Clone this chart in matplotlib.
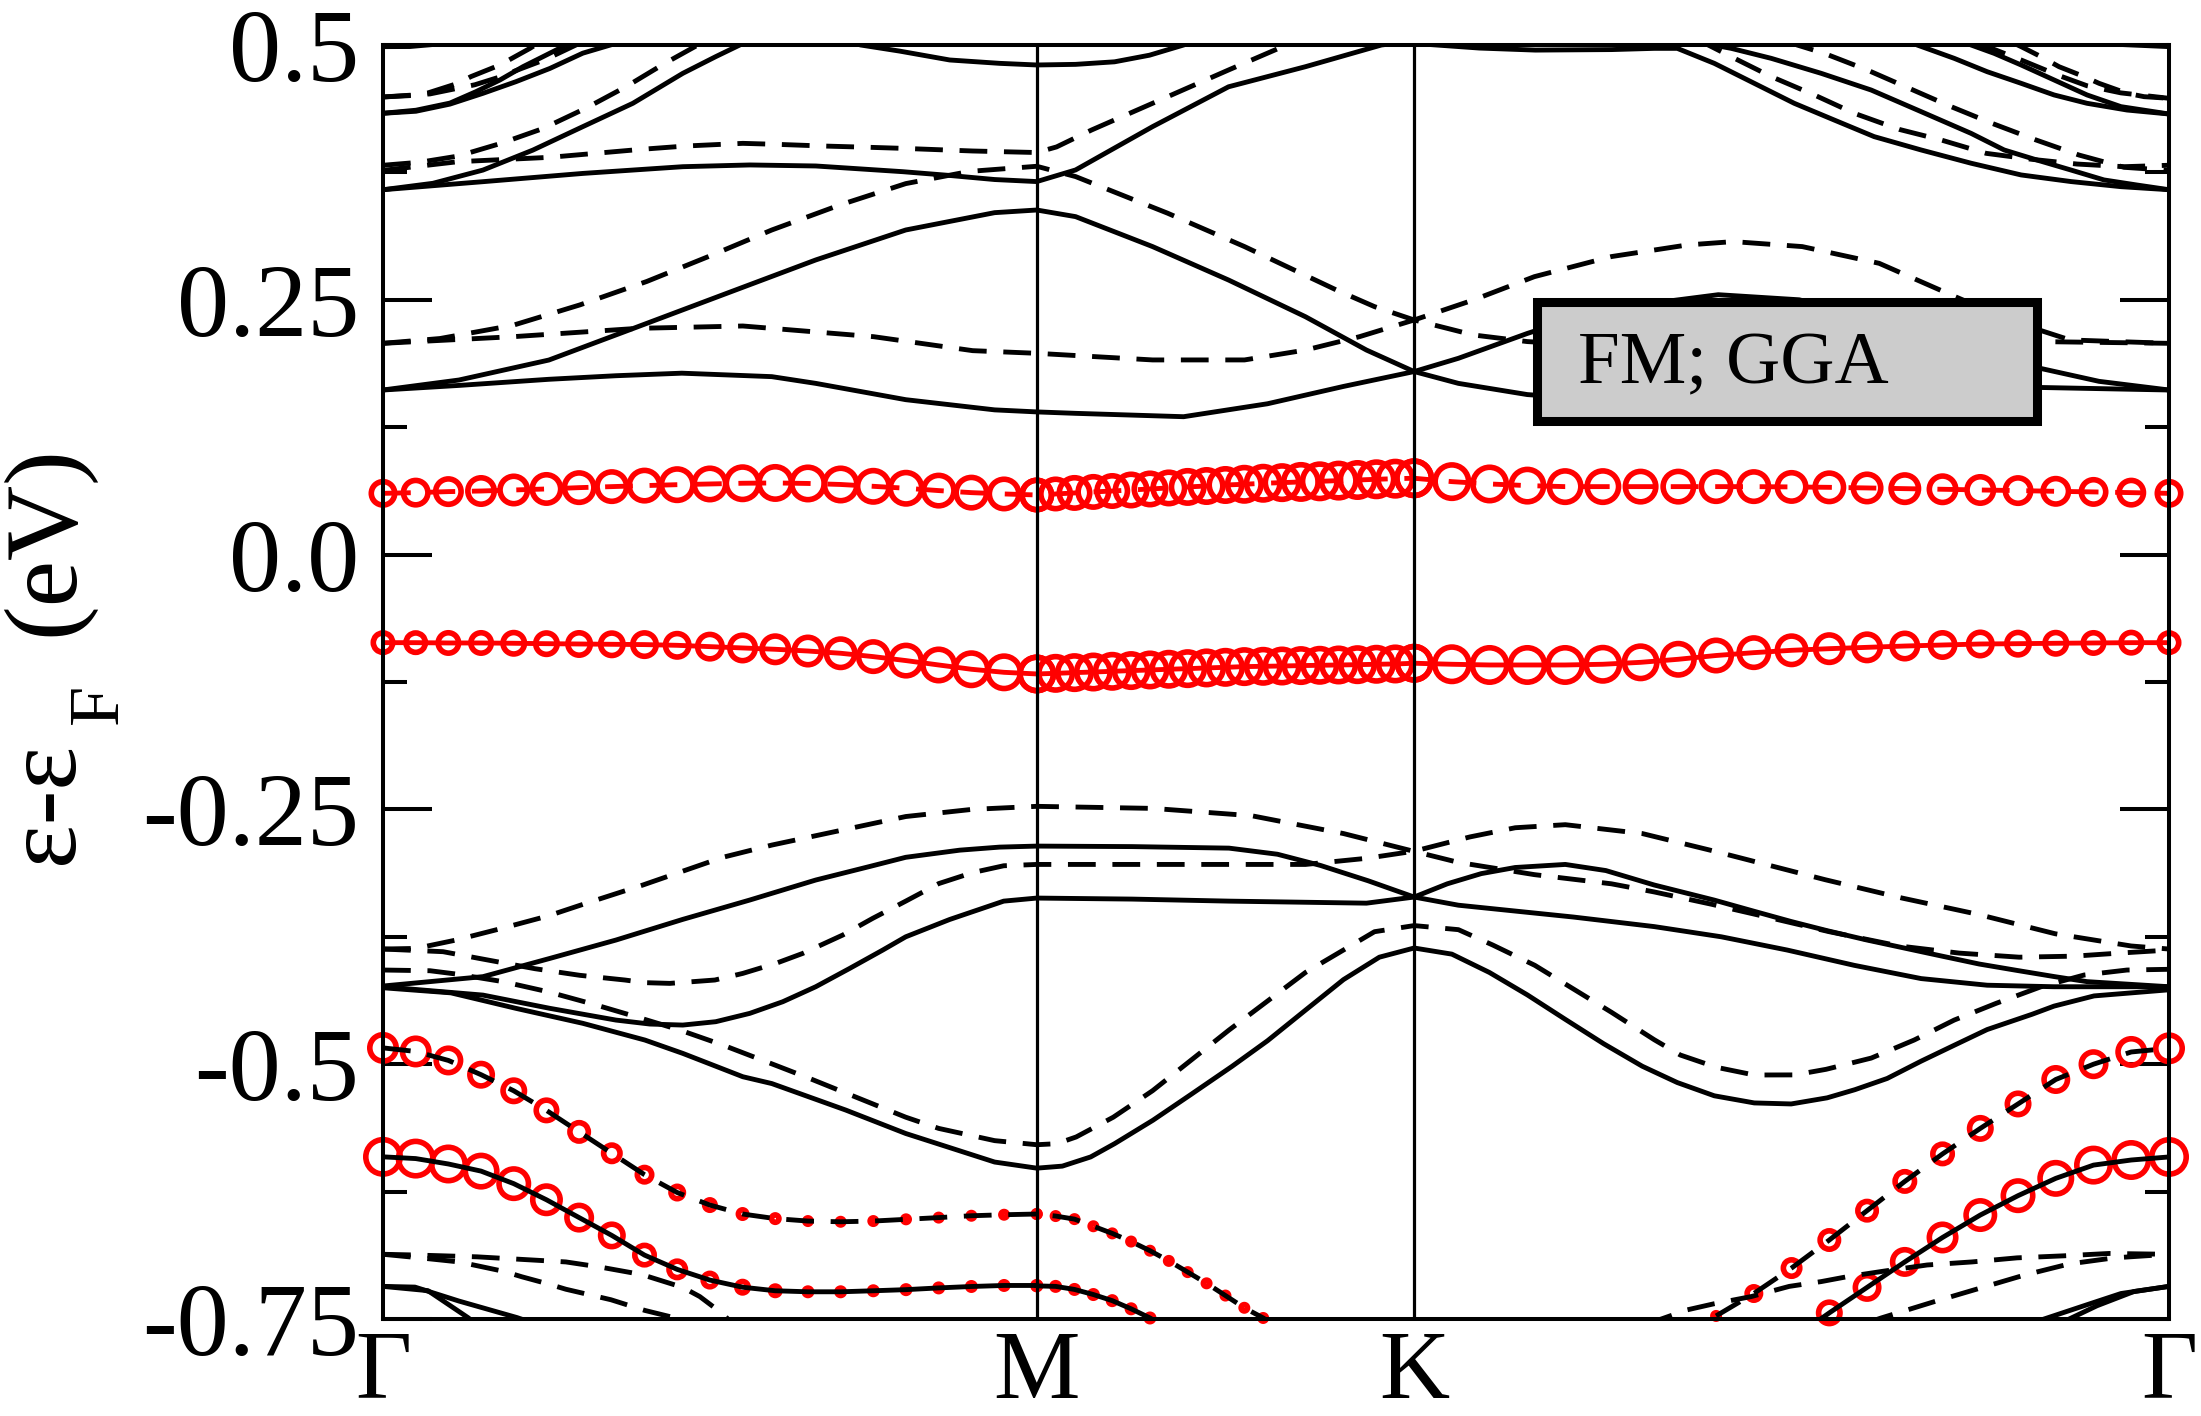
import numpy as np
import matplotlib
matplotlib.use('Agg')
import matplotlib.pyplot as plt
from matplotlib.patches import Rectangle

plt.rcParams['font.family'] = ['Liberation Serif', 'DejaVu Serif']
plt.rcParams['lines.scale_dashes'] = False

# ---------------- k-path / axes ----------------
kpath_labels = ['Γ', 'M', 'K', 'Γ']
kpath_pos = [0.0, 0.5774, 0.9107, 1.5774]
n_seg = 20
y_ticks = [-0.75, -0.5, -0.25, 0.0, 0.25, 0.5]
y_ticklabels = ['-0.75', '-0.5', '-0.25', '0.0', '0.25', '0.5']
y_minor = [-0.625, -0.375, -0.125, 0.125, 0.375]
y_label_parts = ['ε-ε', 'F', '(eV)']
legend_text = 'FM; GGA'

# ---------------- spin-up bands (solid) ----------------
up_a_k = [0.0, 0.0671, 0.1465, 0.2057, 0.2639, 0.3434, 0.3822, 0.4617, 0.5402, 0.5774, 0.6117, 0.7071, 0.7812, 0.8483, 0.9107, 0.9498, 1.0107, 1.0743, 1.1793, 1.2508, 1.3391, 1.4273, 1.4627, 1.5156, 1.5774]
up_a_e = [0.1615, 0.166, 0.172, 0.1755, 0.178, 0.1746, 0.168, 0.152, 0.142, 0.140, 0.1386, 0.1353, 0.148, 0.165, 0.1796, 0.1926, 0.217, 0.240, 0.255, 0.250, 0.225, 0.195, 0.183, 0.170, 0.1615]
up_b_k = [0.0, 0.0671, 0.1465, 0.2251, 0.3037, 0.3822, 0.4617, 0.5402, 0.5774, 0.6117, 0.6797, 0.7468, 0.8147, 0.8686, 0.9107, 0.9498, 1.0107, 1.0743, 1.2067, 1.3391, 1.4627, 1.5774]
up_b_e = [0.1615, 0.1713, 0.1909, 0.2236, 0.2564, 0.2891, 0.3185, 0.3355, 0.3381, 0.3316, 0.3022, 0.2694, 0.2334, 0.2007, 0.1796, 0.168, 0.157, 0.152, 0.150, 0.155, 0.164, 0.1615]
up_c_k = [0.0, 0.0883, 0.1765, 0.2648, 0.3240, 0.3822, 0.4590, 0.5005, 0.5402, 0.5774, 0.6117, 0.6797, 0.7468, 0.8147, 0.8818, 0.9107]
up_c_e = [0.358, 0.3659, 0.374, 0.3806, 0.3823, 0.3813, 0.3757, 0.372, 0.368, 0.366, 0.3774, 0.4199, 0.459, 0.4787, 0.5, 0.504]
up_d_k = [0.0, 0.0441, 0.0883, 0.1324, 0.1765, 0.2207, 0.2648, 0.2939, 0.3151, 0.33]
up_d_e = [0.358, 0.3643, 0.3773, 0.3969, 0.4199, 0.4428, 0.4722, 0.4886, 0.5, 0.508]
up_e_k = [0.40, 0.4219, 0.4564, 0.5005, 0.5446, 0.5774, 0.6117, 0.6461, 0.6770, 0.7071, 0.72]
up_e_e = [0.507, 0.5, 0.494, 0.4853, 0.482, 0.4804, 0.481, 0.4835, 0.490, 0.5, 0.505]
up_f_k = [0.9107, 0.9242, 0.9683, 1.0178, 1.0849, 1.1228, 1.1431, 1.1758, 1.2111, 1.2464, 1.2817, 1.3170, 1.3585, 1.4026, 1.4468, 1.4909, 1.5350, 1.5774]
up_f_e = [0.503, 0.5005, 0.497, 0.495, 0.4955, 0.4967, 0.4967, 0.482, 0.4624, 0.4428, 0.4264, 0.4101, 0.397, 0.384, 0.3725, 0.366, 0.361, 0.358]
up_g_k = [1.16, 1.1669, 1.1908, 1.2261, 1.2702, 1.3144, 1.3585, 1.4026, 1.4318, 1.4609, 1.4909, 1.5200, 1.5492, 1.5774]
up_g_e = [0.505, 0.5016, 0.4967, 0.4869, 0.4722, 0.4558, 0.4346, 0.4133, 0.397, 0.3871, 0.3773, 0.3676, 0.3626, 0.358]
up_h_k = [1.35, 1.3550, 1.3877, 1.4168, 1.4468, 1.4759, 1.5050, 1.5403, 1.5774]
up_h_e = [0.503, 0.5, 0.4869, 0.4738, 0.4624, 0.451, 0.4428, 0.4362, 0.4323]
up_i_k = [1.395, 1.4026, 1.4230, 1.4468, 1.4759, 1.5050, 1.5350, 1.5774]
up_i_e = [0.504, 0.5, 0.4918, 0.4804, 0.4657, 0.451, 0.4395, 0.4323]
up_j_k = [1.52, 1.5350, 1.5774]
up_j_e = [0.502, 0.5005, 0.4984]
up_k_k = [0.0, 0.0238, 0.0441, 0.06]
up_k_e = [0.4984, 0.4985, 0.5005, 0.503]
up_l_k = [0.0, 0.0291, 0.0591, 0.0821, 0.1033, 0.1236, 0.1412, 0.1589, 0.165]
up_l_e = [0.433, 0.436, 0.443, 0.4542, 0.4657, 0.4787, 0.4885, 0.4984, 0.502]
up_m_k = [0.0, 0.0291, 0.0591, 0.0883, 0.1174, 0.1474, 0.1765, 0.2057, 0.21]
up_m_e = [0.433, 0.435, 0.442, 0.4526, 0.464, 0.477, 0.492, 0.5016, 0.503]
up_n_k = [0.0, 0.0883, 0.1474, 0.2057, 0.2648, 0.3240, 0.3822, 0.4299, 0.4617, 0.5093, 0.5446, 0.5774, 0.6617, 0.7472, 0.79, 0.828, 0.87, 0.9107, 0.9498, 1.0513, 1.1228, 1.1820, 1.2402, 1.2994, 1.3585, 1.4168, 1.4759, 1.5774]
up_n_e = [-0.4233, -0.4141, -0.3962, -0.3782, -0.3579, -0.3389, -0.3193, -0.306, -0.297, -0.290, -0.287, -0.286, -0.2865, -0.288, -0.294, -0.305, -0.320, -0.336, -0.344, -0.3556, -0.365, -0.375, -0.388, -0.403, -0.416, -0.4225, -0.424, -0.424]
up_o_k = [0.0, 0.0883, 0.1474, 0.2057, 0.2357, 0.2648, 0.2939, 0.3240, 0.3531, 0.3822, 0.4122, 0.4414, 0.4617, 0.5005, 0.5482, 0.5774, 0.6617, 0.7472, 0.8686, 0.9107, 0.94, 0.97, 1.00, 1.0442, 1.08, 1.1228, 1.1758, 1.2111, 1.2437, 1.2755, 1.3100, 1.3435, 1.3762, 1.4097, 1.4432, 1.4759, 1.5050, 1.5774]
up_o_e = [-0.424, -0.4322, -0.4452, -0.4567, -0.4606, -0.4616, -0.4583, -0.4501, -0.4387, -0.424, -0.406, -0.388, -0.375, -0.358, -0.340, -0.337, -0.338, -0.340, -0.342, -0.336, -0.323, -0.313, -0.307, -0.304, -0.310, -0.3242, -0.339, -0.350, -0.360, -0.369, -0.378, -0.386, -0.3938, -0.4017, -0.408, -0.414, -0.419, -0.424]
up_p_k = [0.0, 0.06, 0.1174, 0.1765, 0.2313, 0.2648, 0.3178, 0.3434, 0.4087, 0.4617, 0.5402, 0.5774, 0.60, 0.625, 0.6461, 0.68, 0.7132, 0.75, 0.7812, 0.8147, 0.8483, 0.88, 0.9107, 0.9440, 0.9772, 1.0107, 1.0442, 1.0782, 1.1122, 1.1431, 1.1758, 1.2111, 1.2437, 1.2755, 1.3000, 1.3285, 1.3585, 1.3885, 1.4168, 1.4565, 1.4759, 1.5112, 1.5774]
up_p_e = [-0.425, -0.430, -0.4452, -0.4599, -0.4763, -0.4894, -0.5123, -0.519, -0.545, -0.568, -0.596, -0.602, -0.600, -0.591, -0.578, -0.555, -0.530, -0.502, -0.477, -0.447, -0.417, -0.395, -0.386, -0.392, -0.410, -0.432, -0.456, -0.480, -0.502, -0.518, -0.531, -0.538, -0.539, -0.533, -0.525, -0.514, -0.497, -0.481, -0.466, -0.451, -0.443, -0.433, -0.427]
up_q_k = [0.0, 0.0282, 0.0671, 0.1183, 0.13]
up_q_e = [-0.718, -0.7187, -0.7324, -0.7486, -0.753]
up_r_k = [0.0, 0.0397, 0.0750, 0.08]
up_r_e = [-0.718, -0.7222, -0.7486, -0.753]
up_s_k = [1.45, 1.4644, 1.5050, 1.5350, 1.5774]
up_s_e = [-0.756, -0.751, -0.736, -0.725, -0.718]
up_t_k = [1.475, 1.4874, 1.5138, 1.5465, 1.5774]
up_t_e = [-0.756, -0.751, -0.737, -0.723, -0.718]

# ---------------- spin-down bands (dashed) ----------------
dn_a_k = [0.0, 0.1148, 0.2251, 0.3178, 0.4334, 0.5208, 0.5774, 0.6797, 0.7609, 0.8147, 0.8624, 0.9107, 0.9630, 1.0169, 1.0849, 1.1519, 1.1926, 1.2535, 1.3214, 1.3885, 1.4230, 1.4627, 1.4900, 1.5774]
dn_a_e = [0.2073, 0.2138, 0.222, 0.2243, 0.2138, 0.2001, 0.1975, 0.191, 0.191, 0.2007, 0.2138, 0.2302, 0.2498, 0.2727, 0.2924, 0.3038, 0.3071, 0.3022, 0.2858, 0.2531, 0.2367, 0.2204, 0.2106, 0.2073]
dn_b_k = [0.0, 0.0503, 0.1148, 0.1739, 0.2330, 0.2887, 0.3434, 0.4034, 0.4617, 0.5181, 0.5774, 0.6117, 0.6929, 0.7609, 0.8421, 0.8757, 0.9107, 0.9630, 1.0107, 1.0743, 1.2067, 1.3391, 1.4627, 1.5774]
dn_b_e = [0.2073, 0.212, 0.225, 0.245, 0.268, 0.293, 0.3185, 0.343, 0.364, 0.376, 0.381, 0.3709, 0.335, 0.3022, 0.2596, 0.2433, 0.2302, 0.2155, 0.209, 0.205, 0.203, 0.206, 0.209, 0.2073]
dn_c_k = [0.0, 0.0662, 0.1474, 0.2277, 0.2675, 0.3178, 0.3487, 0.3884, 0.4299, 0.4590, 0.5208, 0.5774, 0.5949, 0.6258, 0.6797, 0.7468, 0.7944, 0.80]
dn_c_e = [0.377, 0.3855, 0.3898, 0.3976, 0.4009, 0.4035, 0.4025, 0.4009, 0.3996, 0.3986, 0.396, 0.3945, 0.400, 0.4166, 0.4428, 0.4755, 0.4983, 0.502]
dn_d_k = [0.0, 0.0327, 0.0662, 0.1042, 0.1412, 0.1792, 0.2145, 0.2489, 0.2781, 0.285]
dn_d_e = [0.382, 0.385, 0.391, 0.4035, 0.418, 0.438, 0.459, 0.482, 0.500, 0.505]
dn_e_k = [0.0, 0.0265, 0.0397, 0.0662, 0.0777, 0.1033, 0.1298, 0.1359]
dn_e_e = [0.449, 0.4505, 0.453, 0.4624, 0.469, 0.4804, 0.4967, 0.501]
dn_f_k = [0.0, 0.0415, 0.0812, 0.1042, 0.1165, 0.1439, 0.1704, 0.175]
dn_f_e = [0.449, 0.452, 0.461, 0.469, 0.4745, 0.486, 0.5, 0.503]
dn_g_k = [1.16, 1.1669, 1.1908, 1.2261, 1.2641, 1.2994, 1.3391, 1.3762, 1.4159, 1.4565, 1.4962, 1.5377, 1.5774]
dn_g_e = [0.506, 0.502, 0.4885, 0.469, 0.451, 0.433, 0.4172, 0.4068, 0.3937, 0.3878, 0.3832, 0.3806, 0.382]
dn_h_k = [1.24, 1.2490, 1.2729, 1.3108, 1.3479, 1.3850, 1.4212, 1.4600, 1.4980, 1.5377, 1.5774]
dn_h_e = [0.504, 0.5, 0.4918, 0.4755, 0.4575, 0.4395, 0.4231, 0.4068, 0.392, 0.380, 0.377]
dn_i_k = [1.41, 1.4168, 1.4468, 1.4803, 1.5050, 1.5350, 1.5774]
dn_i_e = [0.502, 0.4984, 0.4853, 0.470, 0.460, 0.453, 0.4477]
dn_j_k = [1.44, 1.4468, 1.4644, 1.4803, 1.5024, 1.5156, 1.5403, 1.5554, 1.5774]
dn_j_e = [0.502, 0.4984, 0.4885, 0.4787, 0.469, 0.4624, 0.4526, 0.4493, 0.4477]
dn_k_k = [0.0, 0.0291, 0.0644, 0.1015, 0.1456, 0.1792, 0.2295, 0.3001, 0.3434, 0.4617, 0.52, 0.5774, 0.6797, 0.7671, 0.8483, 0.9107, 0.9498, 1.0169, 1.0849, 1.1228, 1.1731, 1.2199, 1.2773, 1.3391, 1.3921, 1.4450, 1.4935, 1.5333, 1.5774]
dn_k_e = [-0.387, -0.3864, -0.3782, -0.3677, -0.3546, -0.3422, -0.3242, -0.297, -0.285, -0.257, -0.250, -0.247, -0.249, -0.2562, -0.2737, -0.2912, -0.302, -0.314, -0.323, -0.331, -0.343, -0.355, -0.370, -0.384, -0.391, -0.395, -0.394, -0.391, -0.388]
dn_l_k = [0.0, 0.0530, 0.0927, 0.1342, 0.1739, 0.2136, 0.2313, 0.2533, 0.2931, 0.3178, 0.3469, 0.3707, 0.4060, 0.4325, 0.4617, 0.4908, 0.5208, 0.5482, 0.5774, 0.6797, 0.8147, 0.8686, 0.9107, 0.96, 1.00, 1.0442, 1.1122, 1.1758, 1.2738, 1.3417, 1.4088, 1.4768, 1.5439, 1.5774]
dn_l_e = [-0.387, -0.3896, -0.3978, -0.4063, -0.4128, -0.4174, -0.420, -0.4207, -0.4174, -0.4109, -0.4011, -0.3913, -0.3733, -0.3569, -0.340, -0.3228, -0.312, -0.3053, -0.304, -0.304, -0.304, -0.298, -0.291, -0.277, -0.268, -0.265, -0.2737, -0.291, -0.319, -0.337, -0.353, -0.372, -0.384, -0.387]
dn_m_k = [0.0, 0.0415, 0.0644, 0.106, 0.1456, 0.1854, 0.2234, 0.2622, 0.3001, 0.3384, 0.3766, 0.4617, 0.4908, 0.5402, 0.5774, 0.5950, 0.6122, 0.645, 0.6797, 0.7472, 0.8147, 0.8757, 0.9107, 0.9498, 0.98, 1.0173, 1.0849, 1.1228, 1.1458, 1.1775, 1.2111, 1.2469, 1.2746, 1.3144, 1.3523, 1.3877, 1.4247, 1.4644, 1.5024, 1.5403, 1.5774]
dn_m_e = [-0.4076, -0.4083, -0.4115, -0.419, -0.4289, -0.441, -0.4534, -0.4665, -0.4812, -0.4975, -0.5139, -0.552, -0.563, -0.575, -0.579, -0.578, -0.5714, -0.552, -0.526, -0.4665, -0.410, -0.370, -0.364, -0.368, -0.383, -0.403, -0.449, -0.476, -0.491, -0.503, -0.5106, -0.5105, -0.505, -0.494, -0.4763, -0.4567, -0.4403, -0.424, -0.4125, -0.4076, -0.4069]
dn_n_k = [0.0, 0.0282, 0.0830, 0.1615, 0.1916, 0.2286, 0.2648, 0.2798, 0.3001, 0.31]
dn_n_e = [-0.6865, -0.6872, -0.689, -0.694, -0.699, -0.7064, -0.719, -0.728, -0.745, -0.756]
dn_o_k = [0.0, 0.0397, 0.0671, 0.0830, 0.1068, 0.1227, 0.1456, 0.1615, 0.2013, 0.2313, 0.2569, 0.27]
dn_o_e = [-0.6865, -0.6908, -0.694, -0.6977, -0.7033, -0.7086, -0.7155, -0.7208, -0.7311, -0.7416, -0.7486, -0.753]
dn_p_k = [1.115, 1.129, 1.152, 1.1758, 1.2084, 1.2420, 1.2702, 1.2932, 1.3258, 1.3638, 1.4035, 1.4432, 1.4847, 1.5245, 1.5774]
dn_p_e = [-0.755, -0.750, -0.741, -0.735, -0.728, -0.718, -0.7133, -0.7085, -0.703, -0.697, -0.694, -0.690, -0.688, -0.6857, -0.6865]
dn_q_k = [1.31, 1.3232, 1.3700, 1.4097, 1.4494, 1.4891, 1.5289, 1.5774]
dn_q_e = [-0.754, -0.749, -0.733, -0.720, -0.707, -0.696, -0.690, -0.6865]

# ---------------- fat (projected) bands: energies on the 20-interval k-grid ----------------
r1_gm = [0.0601, 0.0608, 0.0618, 0.0624, 0.0634, 0.0644, 0.0657, 0.0667, 0.0677, 0.0686, 0.0693, 0.0700, 0.0703, 0.0698, 0.0688, 0.0670, 0.0651, 0.0628, 0.0608, 0.0595, 0.0585]
r1_mk = [0.0585, 0.0595, 0.0605, 0.0615, 0.0624, 0.0634, 0.0644, 0.0654, 0.0664, 0.0673, 0.0683, 0.0690, 0.0700, 0.0706, 0.0713, 0.0719, 0.0726, 0.0732, 0.0739, 0.0745, 0.0749]
r1_kg = [0.0749, 0.0716, 0.0693, 0.0677, 0.0667, 0.0667, 0.0667, 0.0667, 0.0667, 0.0667, 0.0664, 0.0660, 0.0654, 0.0647, 0.0641, 0.0634, 0.0628, 0.0621, 0.0615, 0.0608, 0.0601]
r1_gm_w = [29, 30, 31, 32, 33, 34, 35, 35, 36, 37, 37, 38, 38, 38, 38, 37, 37, 36, 36, 35, 35]
r1_mk_w = [35, 35, 36, 36, 36, 37, 37, 37, 38, 38, 38, 39, 39, 39, 40, 40, 40, 40, 40, 40, 40]
r1_kg_w = [40, 39, 39, 38, 37, 37, 36, 36, 35, 35, 34, 34, 33, 33, 32, 32, 31, 31, 30, 30, 29]
r2_gm = [-0.0864, -0.0864, -0.0867, -0.0867, -0.0870, -0.0874, -0.0877, -0.0880, -0.0883, -0.0890, -0.0903, -0.0916, -0.0929, -0.0946, -0.0968, -0.1001, -0.1040, -0.1083, -0.1125, -0.1155, -0.1171]
r2_mk = [-0.1171, -0.1165, -0.1158, -0.1152, -0.1145, -0.1138, -0.1132, -0.1125, -0.1119, -0.1112, -0.1106, -0.1099, -0.1096, -0.1093, -0.1089, -0.1086, -0.1083, -0.1080, -0.1076, -0.1073, -0.1066]
r2_kg = [-0.1066, -0.1076, -0.1083, -0.1083, -0.1083, -0.1076, -0.1057, -0.1027, -0.0990, -0.0962, -0.0939, -0.0923, -0.0910, -0.0897, -0.0887, -0.0877, -0.0874, -0.0870, -0.0867, -0.0864, -0.0864]
r2_gm_w = [25, 25, 26, 26, 27, 27, 28, 28, 29, 29, 30, 31, 32, 33, 34, 35, 36, 37, 38, 38, 39]
r2_mk_w = [39, 39, 39, 39, 39, 39, 39, 39, 39, 39, 39, 39, 39, 39, 39, 39, 39, 39, 39, 39, 39]
r2_kg_w = [39, 40, 40, 40, 40, 39, 38, 37, 36, 35, 34, 33, 32, 31, 30, 29, 28, 27, 26, 26, 25]
r3_gm = [-0.484, -0.4875, -0.4963, -0.5103, -0.5261, -0.5453, -0.5664, -0.5874, -0.6084, -0.6259, -0.6382, -0.647, -0.6515, -0.6539, -0.6546, -0.6539, -0.6522, -0.6505, -0.6487, -0.6477, -0.647]
r3_mk = [-0.647, -0.649, -0.652, -0.659, -0.666, -0.674, -0.683, -0.693, -0.704, -0.715, -0.727, -0.739, -0.749, -0.761]
r3_kg_start = 7
r3_kg = [-0.770, -0.747, -0.725, -0.700, -0.6725, -0.6437, -0.615, -0.588, -0.563, -0.539, -0.515, -0.500, -0.488, -0.4844]
r3_gm_w = [32, 32, 30, 28, 27, 26, 24, 22, 20, 18, 16, 14, 13, 12, 12, 12, 12, 12, 12, 12, 12]
r3_mk_w = [12, 12, 12, 12, 12, 12, 12, 12, 12, 12, 12, 12, 12, 12]
r3_kg_w = [11, 12, 19, 22, 24, 24, 25, 25, 27, 27, 29, 30, 32, 32]
r4_gm = [-0.5909, -0.5926, -0.5979, -0.6049, -0.6172, -0.633, -0.6505, -0.668, -0.6873, -0.7013, -0.7118, -0.7188, -0.7223, -0.7233, -0.7233, -0.7223, -0.7212, -0.7195, -0.7181, -0.7171, -0.7171]
r4_mk = [-0.7175, -0.718, -0.721, -0.726, -0.732, -0.740, -0.749, -0.760]
r4_kg_start = 10
r4_kg = [-0.770, -0.744, -0.719, -0.694, -0.670, -0.648, -0.629, -0.612, -0.599, -0.594, -0.591]
r4_gm_w = [40, 40, 39, 37, 35, 33, 30, 28, 25, 22, 19, 17, 15, 13, 13, 13, 13, 13, 13, 13, 13]
r4_mk_w = [13, 13, 13, 13, 13, 13, 13, 13]
r4_kg_w = [26, 27, 29, 30, 32, 34, 35, 37, 39, 40, 40]

solid_bands = [(up_a_k, up_a_e), (up_b_k, up_b_e), (up_c_k, up_c_e), (up_d_k, up_d_e),
               (up_e_k, up_e_e), (up_f_k, up_f_e), (up_g_k, up_g_e), (up_h_k, up_h_e),
               (up_i_k, up_i_e), (up_j_k, up_j_e), (up_k_k, up_k_e), (up_l_k, up_l_e),
               (up_m_k, up_m_e), (up_n_k, up_n_e), (up_o_k, up_o_e), (up_p_k, up_p_e),
               (up_q_k, up_q_e), (up_r_k, up_r_e), (up_s_k, up_s_e), (up_t_k, up_t_e)]
dashed_bands = [(dn_a_k, dn_a_e), (dn_b_k, dn_b_e), (dn_c_k, dn_c_e), (dn_d_k, dn_d_e),
                (dn_e_k, dn_e_e), (dn_f_k, dn_f_e), (dn_g_k, dn_g_e), (dn_h_k, dn_h_e),
                (dn_i_k, dn_i_e), (dn_j_k, dn_j_e), (dn_k_k, dn_k_e), (dn_l_k, dn_l_e),
                (dn_m_k, dn_m_e), (dn_n_k, dn_n_e), (dn_o_k, dn_o_e), (dn_p_k, dn_p_e),
                (dn_q_k, dn_q_e)]

# ---------------- drawing ----------------
W, H = 2201, 1416
fig = plt.figure(figsize=(W / 100, H / 100), dpi=100)
ax = fig.add_axes([383 / W, 97 / H, (2169 - 383) / W, (1319 - 45) / H])
ax.set_xlim(kpath_pos[0], kpath_pos[-1])
ax.set_ylim(y_ticks[0], y_ticks[-1])

LW = 3.5
DASH = (20, 12)
RING = 5.6  # ring stroke in px
PX = 0.72   # points per pixel at 100 dpi


def seg_k(seg, idx):
    k0, k1 = kpath_pos[seg], kpath_pos[seg + 1]
    return k0 + (k1 - k0) * np.asarray(idx, dtype=float) / n_seg


def rings(k, e, w):
    k = np.asarray(k); e = np.asarray(e); w = np.asarray(w, dtype=float)
    m = (e >= y_ticks[0] - 0.002) & (e <= y_ticks[-1])
    s = ((w[m] - RING) * PX) ** 2
    ax.scatter(k[m], e[m], s=s, facecolors='none', edgecolors='red',
               linewidths=RING * PX, zorder=2, clip_on=False)


for gm, mk, kg, wg, wm, wk, ls in [(r1_gm, r1_mk, r1_kg, r1_gm_w, r1_mk_w, r1_kg_w, 'dash'),
                                   (r2_gm, r2_mk, r2_kg, r2_gm_w, r2_mk_w, r2_kg_w, 'solid')]:
    k = np.concatenate([seg_k(0, range(21)), seg_k(1, range(21)), seg_k(2, range(21))])
    e = np.concatenate([gm, mk, kg])
    w = np.concatenate([wg, wm, wk])
    rings(k, e, w)
    if ls == 'dash':
        ax.plot(k, e, color='red', lw=LW, dashes=DASH, zorder=2.5)
    else:
        ax.plot(k, e, color='red', lw=LW, zorder=2.5)

for gm, mk, kg, kg0, wg, wm, wk, dashed in [
        (r3_gm, r3_mk, r3_kg, r3_kg_start, r3_gm_w, r3_mk_w, r3_kg_w, True),
        (r4_gm, r4_mk, r4_kg, r4_kg_start, r4_gm_w, r4_mk_w, r4_kg_w, False)]:
    k1 = np.concatenate([seg_k(0, range(21)), seg_k(1, range(len(mk)))])
    e1 = np.concatenate([gm, mk])
    k2 = seg_k(2, range(kg0, 21))
    e2 = np.asarray(kg)
    rings(k1, e1, np.concatenate([wg, wm]))
    rings(k2, e2, wk)
    for kk, ee in [(k1, e1), (k2, e2)]:
        if dashed:
            ax.plot(kk, ee, color='k', lw=LW, dashes=DASH, zorder=3)
        else:
            ax.plot(kk, ee, color='k', lw=LW, zorder=3)

for k, e in solid_bands:
    ax.plot(k, e, color='k', lw=LW, zorder=3)
for k, e in dashed_bands:
    ax.plot(k, e, color='k', lw=LW, dashes=DASH, zorder=3)

for kp in kpath_pos[1:-1]:
    ax.axvline(kp, color='k', lw=2.3, zorder=4)

for sp in ax.spines.values():
    sp.set_linewidth(2.9)
    sp.set_zorder(5)

ax.set_yticks(y_ticks)
ax.set_yticklabels(y_ticklabels, fontsize=75)
ax.set_yticks(y_minor, minor=True)
ax.tick_params(axis='y', which='both', direction='in', left=True, right=True, width=2.9)
ax.tick_params(axis='y', which='major', length=35, pad=17)
ax.tick_params(axis='y', which='minor', length=17)
ax.set_xticks(kpath_pos)
ax.set_xticklabels(kpath_labels, fontsize=70)
ax.tick_params(axis='x', which='both', length=0, pad=8)

# y-axis label assembled from serif pieces (main text, lowered subscript, unit)
lab_kw = dict(rotation=90, rotation_mode='anchor', ha='left', va='baseline')
fig.text(72 / W, 1 - 864 / H, y_label_parts[0], fontsize=75, **lab_kw)
fig.text(117 / W, 1 - 724 / H, y_label_parts[1], fontsize=52, **lab_kw)
fig.text(72 / W, 1 - 636 / H, y_label_parts[2], fontsize=75, **lab_kw)

box = Rectangle((1537 / W, 1 - 421 / H), 500 / W, 119 / H, transform=fig.transFigure,
                facecolor='#cccccc', edgecolor='k', linewidth=6.5, zorder=10)
fig.add_artist(box)
fig.text(1578 / W, 1 - 383 / H, legend_text, ha='left', va='baseline', fontsize=54, zorder=11)

fig.savefig('out.png', dpi=100)
